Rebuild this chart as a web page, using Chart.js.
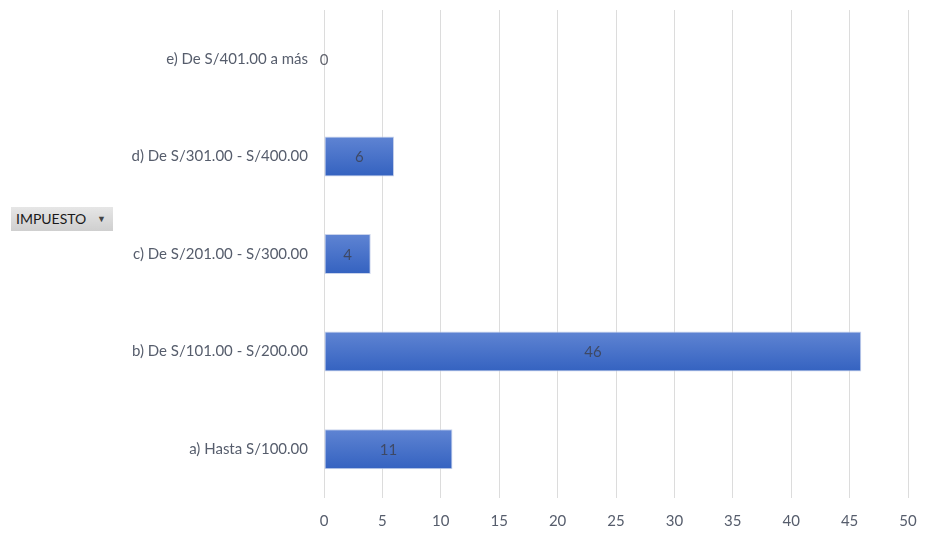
<!DOCTYPE html>
<html>
<head>
<meta charset="utf-8">
<script src="https://cdn.jsdelivr.net/npm/chart.js@4"></script>
<style>
    html, body { margin: 0; padding: 0; background: #fff; }
    #wrap { position: relative; width: 925px; height: 542px; }
    #btn {
        position: absolute; left: 11px; top: 207px; width: 102px; height: 24px;
        box-sizing: border-box; padding-left: 5px;
        background: linear-gradient(#e6e6e6, #cfcfcf);
        font: 14px Lato, sans-serif; color: #1a1a1a; line-height: 24px;
    }
    #btn span { position: absolute; right: 7px; top: 0; font-size: 9px; color: #444; }
</style>
</head>
<body>
<div id="wrap">
    <canvas id="chartImpuesto" width="925" height="542"></canvas>
    <div id="btn">IMPUESTO<span>&#9660;</span></div>
</div>
<script>
const categorias = [
    "e) De S/401.00 a más",
    "d) De S/301.00 - S/400.00",
    "c) De S/201.00 - S/300.00",
    "b) De S/101.00 - S/200.00",
    "a) Hasta S/100.00"
];

const cantidades = [0, 6, 4, 46, 11];

const ticksX = [0, 5, 10, 15, 20, 25, 30, 35, 40, 45, 50];

const colorTexto = "#565d6c";

const CAT_PCT = 0.82;
const BAR_PCT = 0.5;

// relleno degradado de cada barra (de arriba a abajo)
function barGradient(ctx) {

    const chart = ctx.chart;
    const y = chart.scales.y;

    if (!chart.chartArea || !y || ctx.dataIndex === undefined) {
        return "#4472c4";
    }

    const centro = y.getPixelForValue(ctx.dataIndex);
    const mitad = (y.height / categorias.length) * CAT_PCT * BAR_PCT / 2;

    const g = chart.ctx.createLinearGradient(0, centro - mitad, 0, centro + mitad);
    g.addColorStop(0, "#5f84d3");
    g.addColorStop(1, "#3462c0");
    return g;
}

// etiquetas de valor al centro de la barra
const valueLabels = {
    id: "valueLabels",
    afterDatasetsDraw(chart) {

        const ctx = chart.ctx;
        const meta = chart.getDatasetMeta(0);

        ctx.save();
        ctx.font = "15px Lato, sans-serif";
        ctx.fillStyle = "rgba(60,62,75,0.8)";
        ctx.textAlign = "center";
        ctx.textBaseline = "middle";

        meta.data.forEach((bar, i) => {
            const x = (bar.x + bar.base) / 2;
            ctx.fillText(String(cantidades[i]), x, bar.y + 1);
        });

        ctx.restore();
    }
};

new Chart(

    document.getElementById("chartImpuesto"),

    {
        type: "bar",

        data: {
            labels: categorias,

            datasets: [{
                data: cantidades,
                backgroundColor: barGradient,
                borderColor: "#c9d3ec",
                borderWidth: 1,
                borderSkipped: false,
                categoryPercentage: CAT_PCT,
                barPercentage: BAR_PCT
            }]
        },

        options: {
            indexAxis: "y",
            responsive: false,
            animation: false,
            layout: {
                padding: { top: 10, right: 17, bottom: 0, left: 0 }
            },
            plugins: {
                legend: { display: false },
                tooltip: { enabled: false }
            },
            scales: {
                x: {
                    min: 0,
                    max: 50,
                    afterBuildTicks(scale) {
                        scale.ticks = ticksX.map(v => ({ value: v }));
                    },
                    afterFit(scale) {
                        scale.height = 44;
                        scale.paddingLeft = 0;
                        scale.paddingRight = 0;
                    },
                    grid: {
                        color: "#dcdcdc",
                        drawTicks: false
                    },
                    border: { display: false },
                    ticks: {
                        color: colorTexto,
                        font: { family: "Lato", size: 15 },
                        padding: 14
                    }
                },
                y: {
                    afterFit(scale) {
                        scale.width = 324;
                        scale.paddingTop = 0;
                        scale.paddingBottom = 0;
                    },
                    grid: { display: false, drawTicks: false },
                    border: { display: false },
                    ticks: {
                        color: colorTexto,
                        font: { family: "Lato", size: 15 },
                        padding: 16
                    }
                }
            }
        },

        plugins: [valueLabels]
    }
);
</script>
</body>
</html>
